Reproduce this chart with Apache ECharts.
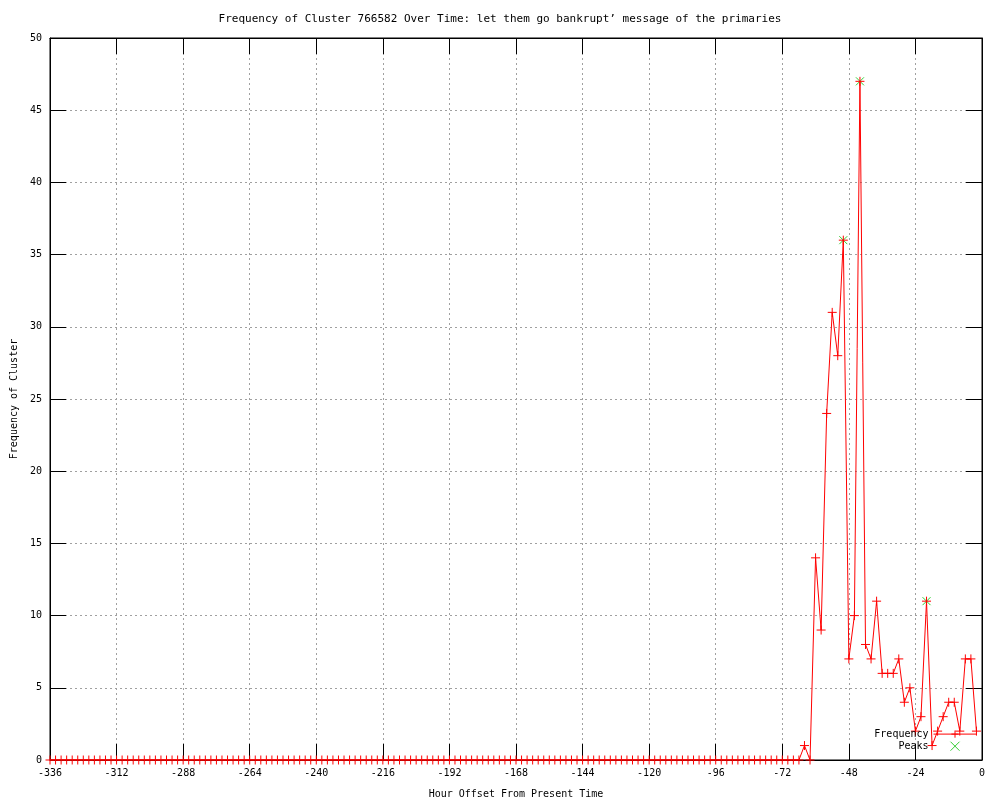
<!DOCTYPE html>
<html>
<head>
<meta charset="utf-8">
<script src="https://cdn.jsdelivr.net/npm/echarts@6/dist/echarts.min.js"></script>
<style>html,body{margin:0;padding:0;background:#fff}#chart{width:1000px;height:800px}</style>
</head>
<body>
<div id="chart"></div>
<script>
// Hour offsets (every 2 hours from -336 to -2)
var hours = [
 -336,-334,-332,-330,-328,-326,-324,-322,-320,-318,-316,-314,-312,-310,-308,-306,-304,-302,-300,-298,
 -296,-294,-292,-290,-288,-286,-284,-282,-280,-278,-276,-274,-272,-270,-268,-266,-264,-262,-260,-258,
 -256,-254,-252,-250,-248,-246,-244,-242,-240,-238,-236,-234,-232,-230,-228,-226,-224,-222,-220,-218,
 -216,-214,-212,-210,-208,-206,-204,-202,-200,-198,-196,-194,-192,-190,-188,-186,-184,-182,-180,-178,
 -176,-174,-172,-170,-168,-166,-164,-162,-160,-158,-156,-154,-152,-150,-148,-146,-144,-142,-140,-138,
 -136,-134,-132,-130,-128,-126,-124,-122,-120,-118,-116,-114,-112,-110,-108,-106,-104,-102,-100,-98,
 -96,-94,-92,-90,-88,-86,-84,-82,-80,-78,-76,-74,-72,-70,-68,-66,-64,-62,-60,-58,
 -56,-54,-52,-50,-48,-46,-44,-42,-40,-38,-36,-34,-32,-30,-28,-26,-24,-22,-20,-18,
 -16,-14,-12,-10,-8,-6,-4,-2
];
var frequency = [
 0,0,0,0,0,0,0,0,0,0,0,0,0,0,0,0,0,0,0,0,
 0,0,0,0,0,0,0,0,0,0,0,0,0,0,0,0,0,0,0,0,
 0,0,0,0,0,0,0,0,0,0,0,0,0,0,0,0,0,0,0,0,
 0,0,0,0,0,0,0,0,0,0,0,0,0,0,0,0,0,0,0,0,
 0,0,0,0,0,0,0,0,0,0,0,0,0,0,0,0,0,0,0,0,
 0,0,0,0,0,0,0,0,0,0,0,0,0,0,0,0,0,0,0,0,
 0,0,0,0,0,0,0,0,0,0,0,0,0,0,0,0,1,0,14,9,
 24,31,28,36,7,10,47,8,7,11,6,6,6,7,4,5,2,3,11,1,
 2,3,4,4,2,7,7,2
];
var peakHours = [-50, -44, -20];
var peakValues = [36, 47, 11];
var xTicks = {min: -336, max: 0, step: 24};
var yTicks = {min: 0, max: 50, step: 5};

var FONT = 'DejaVu Sans Mono';
var lineData = hours.map(function(h, i){ return [h, frequency[i]]; });
var peakData = peakHours.map(function(h, i){ return [h, peakValues[i]]; });

var chart = echarts.init(document.getElementById('chart'), null, {renderer: 'canvas'});
var gridLine = {show: true, lineStyle: {color: '#a0a0a0', type: [2, 3], width: 1}};
var option = {
  animation: false,
  backgroundColor: '#fff',
  title: {
    text: 'Frequency of Cluster 766582 Over Time: let them go bankrupt\u2019 message of the primaries',
    left: 'center', top: 9,
    textStyle: {fontFamily: FONT, fontSize: 11, fontWeight: 'normal', color: '#000'}
  },
  grid: {left: 50, right: 18, top: 38, bottom: 40, containLabel: false, outerBoundsMode: 'none',
         show: true, borderColor: '#000', borderWidth: 1},
  legend: {
    orient: 'vertical', right: 18, top: 723, align: 'right',
    itemWidth: 43, itemHeight: 9, itemGap: -1,
    lineStyle: {width: 1},
    itemStyle: {borderWidth: 1},
    textStyle: {fontFamily: FONT, fontSize: 10, color: '#000'},
    data: ['Frequency', 'Peaks']
  },
  xAxis: [{
    type: 'value', min: xTicks.min, max: xTicks.max, interval: xTicks.step,
    name: 'Hour Offset From Present Time', nameLocation: 'middle', nameGap: 29,
    nameTextStyle: {fontFamily: FONT, fontSize: 10, color: '#000'},
    axisLine: {show: true, onZero: false, lineStyle: {color: '#000'}},
    axisTick: {show: true, inside: true, length: 16, lineStyle: {color: '#000'}},
    axisLabel: {fontFamily: FONT, fontSize: 10, color: '#000', margin: 8},
    splitLine: gridLine
  }, {
    type: 'value', position: 'top', min: xTicks.min, max: xTicks.max, interval: xTicks.step,
    axisLine: {show: true, onZero: false, lineStyle: {color: '#000'}},
    axisTick: {show: true, inside: true, length: 16, lineStyle: {color: '#000'}},
    axisLabel: {show: false}, splitLine: {show: false}
  }],
  yAxis: [{
    type: 'value', min: yTicks.min, max: yTicks.max, interval: yTicks.step,
    name: 'Frequency of Cluster', nameLocation: 'middle', nameGap: 31,
    nameTextStyle: {fontFamily: FONT, fontSize: 10, color: '#000'},
    axisLine: {show: true, onZero: false, lineStyle: {color: '#000'}},
    axisTick: {show: true, inside: true, length: 16, lineStyle: {color: '#000'}},
    axisLabel: {fontFamily: FONT, fontSize: 10, color: '#000', margin: 8},
    splitLine: gridLine
  }, {
    type: 'value', position: 'right', min: yTicks.min, max: yTicks.max, interval: yTicks.step,
    axisLine: {show: true, onZero: false, lineStyle: {color: '#000'}},
    axisTick: {show: true, inside: true, length: 16, lineStyle: {color: '#000'}},
    axisLabel: {show: false}, splitLine: {show: false}
  }],
  series: [{
    name: 'Frequency', type: 'line', data: lineData,
    xAxisIndex: 0, yAxisIndex: 0,
    symbol: 'path://M0,5L10,5M5,0L5,10', symbolSize: 9, showAllSymbol: true,
    lineStyle: {color: '#ff0000', width: 1},
    itemStyle: {color: 'none', borderColor: '#ff0000', borderWidth: 1},
    emphasis: {disabled: true}, z: 3
  }, {
    name: 'Peaks', type: 'scatter', data: peakData,
    xAxisIndex: 0, yAxisIndex: 0,
    symbol: 'path://M0,0L10,10M10,0L0,10', symbolSize: 8,
    itemStyle: {color: 'none', borderColor: '#00c000', borderWidth: 1},
    emphasis: {disabled: true}, z: 2
  }]
};
chart.setOption(option);
</script>
</body>
</html>
